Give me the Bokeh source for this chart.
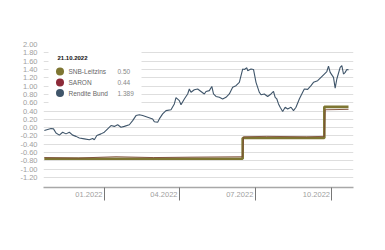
import datetime as dt
from bokeh.plotting import figure
from bokeh.models import Range1d, FixedTicker, PrintfTickFormatter, Label, BoxAnnotation
from bokeh.embed import file_html
from bokeh.resources import INLINE

# ---------------- data ----------------
bund_dates = [
    "2021-10-21", "2021-10-29", "2021-11-01", "2021-11-04", "2021-11-08", "2021-11-12",
    "2021-11-16", "2021-11-20", "2021-11-24", "2021-11-28", "2021-12-02", "2021-12-08",
    "2021-12-14", "2021-12-18", "2021-12-20", "2021-12-23", "2021-12-28", "2022-01-01",
    "2022-01-05", "2022-01-09", "2022-01-13", "2022-01-17", "2022-01-21", "2022-01-25",
    "2022-01-31", "2022-02-04", "2022-02-08", "2022-02-12", "2022-02-16", "2022-02-22",
    "2022-02-28", "2022-03-02", "2022-03-06", "2022-03-08", "2022-03-12", "2022-03-16",
    "2022-03-22", "2022-03-26", "2022-03-28", "2022-04-01", "2022-04-03", "2022-04-07",
    "2022-04-11", "2022-04-13", "2022-04-15", "2022-04-19", "2022-04-23", "2022-04-27",
    "2022-05-01", "2022-05-03", "2022-05-07", "2022-05-10", "2022-05-12", "2022-05-15",
    "2022-05-19", "2022-05-23", "2022-05-27", "2022-05-31", "2022-06-04", "2022-06-08",
    "2022-06-12", "2022-06-16", "2022-06-18", "2022-06-21", "2022-06-22", "2022-06-26",
    "2022-06-29", "2022-07-02", "2022-07-06", "2022-07-08", "2022-07-12", "2022-07-16",
    "2022-07-20", "2022-07-23", "2022-07-25", "2022-07-27", "2022-07-29", "2022-07-31",
    "2022-08-03", "2022-08-06", "2022-08-09", "2022-08-13", "2022-08-16", "2022-08-19",
    "2022-08-23", "2022-08-27", "2022-08-29", "2022-09-02", "2022-09-06", "2022-09-09",
    "2022-09-14", "2022-09-18", "2022-09-22", "2022-09-25", "2022-09-27", "2022-09-29",
    "2022-10-03", "2022-10-05", "2022-10-07", "2022-10-11", "2022-10-13", "2022-10-15",
    "2022-10-17", "2022-10-19", "2022-10-21",
]
bund_vals = [
    -0.07, -0.02, -0.03, -0.13, -0.18, -0.11,
    -0.15, -0.11, -0.18, -0.21, -0.25, -0.27,
    -0.29, -0.26, -0.29, -0.19, -0.15, -0.11,
    -0.03, 0.05, 0.03, 0.07, 0.01, 0.03,
    0.07, 0.17, 0.29, 0.31, 0.29, 0.25,
    0.21, 0.14, 0.13, 0.21, 0.33, 0.41,
    0.43, 0.57, 0.72, 0.65, 0.55, 0.69,
    0.81, 0.93, 0.85, 0.91, 0.93, 0.87,
    0.81, 0.87, 0.89, 0.99, 0.81, 0.75,
    0.73, 0.69, 0.73, 0.81, 0.97, 1.01,
    1.09, 1.41, 1.40, 1.44, 1.37, 1.41,
    1.40, 1.09, 0.85, 0.79, 0.81, 0.75,
    0.81, 0.87, 0.73, 0.69, 0.57, 0.49,
    0.39, 0.49, 0.45, 0.49, 0.41, 0.49,
    0.69, 0.85, 0.93, 0.92, 1.01, 1.09,
    1.13, 1.21, 1.29, 1.35, 1.48, 1.33,
    1.21, 0.95, 1.17, 1.45, 1.49, 1.29,
    1.33, 1.40, 1.389,
]

snb_dates = ["2021-10-21", "2022-06-16", "2022-09-22", "2022-10-21"]
snb_vals = [-0.75, -0.25, 0.50, 0.50]

saron_dates = ["2021-10-21", "2021-12-01", "2022-01-15", "2022-03-01", "2022-04-15",
               "2022-06-16", "2022-06-17", "2022-07-15", "2022-09-01", "2022-09-22",
               "2022-09-23", "2022-10-21"]
saron_vals = [-0.72, -0.73, -0.70, -0.72, -0.71,
              -0.70, -0.22, -0.21, -0.22, -0.21,
              0.43, 0.44]

x_tick_dates = ["2022-01-01", "2022-04-01", "2022-07-01", "2022-10-01"]
x_tick_labels = ["01.2022", "04.2022", "07.2022", "10.2022"]
y_ticks = [-1.2, -1.0, -0.8, -0.6, -0.4, -0.2, 0.0, 0.2, 0.4, 0.6, 0.8, 1.0, 1.2, 1.4, 1.6, 1.8, 2.0]

legend_title = "21.10.2022"
legend_names = ["SNB-Leitzins", "SARON", "Rendite Bund"]
legend_values = ["0.50", "0.44", "1.389"]
colors = ["#7e7632", "#8c2a38", "#3f556a"]

# ---------------- helpers ----------------
EPOCH = dt.datetime(1970, 1, 1)
DAY_MS = 86400000.0
LABEL_SHIFT_DAYS = 18.5   # tick labels sit to the left of their tick mark


def d(s):
    return dt.datetime.strptime(s, "%Y-%m-%d")


def ms(s):
    return (d(s) - EPOCH).total_seconds() * 1000.0


# ---------------- figure ----------------
p = figure(width=385, height=250, x_axis_type="datetime",
           output_backend="svg", toolbar_location=None,
           x_range=Range1d(d("2021-10-20"), d("2022-10-27")),
           y_range=Range1d(-1.44, 2.0),
           min_border_left=43, min_border_right=32,
           min_border_top=44, min_border_bottom=63)
p.outline_line_color = None
p.background_fill_color = "white"
p.border_fill_color = "white"

# y axis
p.yaxis.ticker = FixedTicker(ticks=y_ticks)
p.yaxis.formatter = PrintfTickFormatter(format="%.2f")
p.yaxis.axis_line_color = None
p.yaxis.major_tick_line_color = None
p.yaxis.major_tick_in = 0
p.yaxis.major_tick_out = 0
p.yaxis.minor_tick_line_color = None
p.yaxis.minor_tick_in = 0
p.yaxis.minor_tick_out = 0
p.yaxis.major_label_standoff = 6
p.yaxis.major_label_text_font = "Liberation Sans"
p.yaxis.major_label_text_font_size = "7.5px"
p.yaxis.major_label_text_color = "#a0a0a0"

p.ygrid.ticker = FixedTicker(ticks=y_ticks)
p.ygrid.grid_line_color = "#dedede"
p.xgrid.grid_line_color = None

# x axis: tick marks at month starts (minor ticks), labels left of them (major ticks)
tick_ms = [ms(s) for s in x_tick_dates]
label_ms = [t - LABEL_SHIFT_DAYS * DAY_MS for t in tick_ms]
p.xaxis.ticker = FixedTicker(ticks=label_ms, minor_ticks=tick_ms)
p.xaxis.major_label_overrides = {t: lab for t, lab in zip(label_ms, x_tick_labels)}
p.xaxis.axis_line_color = "#a8a8a8"
p.xaxis.axis_line_width = 1.5
p.xaxis.major_tick_line_color = None
p.xaxis.major_tick_in = 0
p.xaxis.major_tick_out = 0
p.xaxis.minor_tick_line_color = "#777777"
p.xaxis.minor_tick_line_width = 1
p.xaxis.minor_tick_in = 0
p.xaxis.minor_tick_out = 13
p.xaxis.major_label_standoff = -9
p.xaxis.major_label_text_font = "Liberation Sans"
p.xaxis.major_label_text_font_size = "7.5px"
p.xaxis.major_label_text_color = "#a0a0a0"

# series
p.step([d(s) for s in snb_dates], snb_vals, mode="after",
       line_color=colors[0], line_width=2.6)
p.line([d(s) for s in saron_dates], saron_vals,
       line_color="#7a4a33", line_width=0.9)
p.line([d(s) for s in bund_dates], bund_vals,
       line_color=colors[2], line_width=1.1)

# legend box (screen units relative to frame)
p.add_layout(BoxAnnotation(left=5, right=98, top=140, bottom=81,
                           left_units="screen", right_units="screen",
                           top_units="screen", bottom_units="screen",
                           fill_color="white", fill_alpha=1.0, line_color=None))
p.add_layout(Label(x=14, y=130, x_units="screen", y_units="screen",
                   text=legend_title, text_baseline="middle",
                   text_font="Liberation Sans", text_font_style="bold",
                   text_font_size="6px", text_color="#111111"))
entry_y = [116, 105, 94.5]
for yy, name, val, col in zip(entry_y, legend_names, legend_values, colors):
    p.add_layout(BoxAnnotation(left=12.5, right=20.5, top=yy + 4, bottom=yy - 4,
                               left_units="screen", right_units="screen",
                               top_units="screen", bottom_units="screen",
                               fill_color=col, fill_alpha=1.0, line_color=None,
                               border_radius=4))
    p.add_layout(Label(x=25, y=yy, x_units="screen", y_units="screen",
                       text=name, text_baseline="middle",
                       text_font="Liberation Sans", text_font_size="6.5px",
                       text_color="#666666"))
    p.add_layout(Label(x=74, y=yy, x_units="screen", y_units="screen",
                       text=val, text_baseline="middle",
                       text_font="Liberation Sans", text_font_size="6.5px",
                       text_color="#888888"))

open("out.html", "w").write(file_html(p, INLINE))
